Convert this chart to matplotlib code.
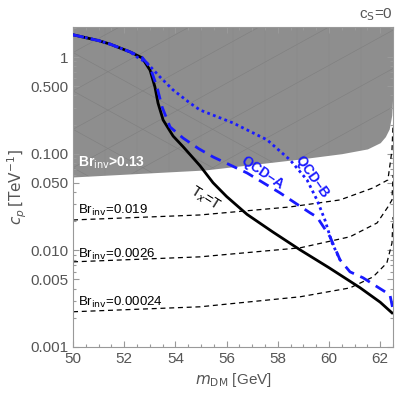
import matplotlib.pyplot as plt
import numpy as np
from matplotlib.ticker import FixedLocator, NullFormatter

plt.rcParams['font.family'] = ['Liberation Sans', 'DejaVu Sans']

# --- data ---
m_tx = [50.0, 51.0, 51.45, 52.23, 52.70, 53.01, 53.20, 53.32, 53.52, 53.91,
        54.3, 54.96, 55.47, 56.0, 56.8, 57.8, 58.87, 60.0, 61.21, 62.0, 62.46]
c_tx = [1.70, 1.48, 1.36, 1.13, 0.98, 0.73, 0.49, 0.334, 0.223, 0.152,
        0.118, 0.075, 0.050, 0.036, 0.0235, 0.0155, 0.0101, 0.0066, 0.0041,
        0.0029, 0.00225]

m_qcda = [50.0, 51.0, 51.45, 52.23, 52.70, 53.01, 53.28, 53.48, 53.79, 54.30,
          54.9, 55.47, 56.80, 58.09, 59.26, 59.53, 60.04, 60.43, 60.82, 61.33,
          61.88, 62.38, 62.5]
c_qcda = [1.70, 1.48, 1.36, 1.13, 0.99, 0.788, 0.49, 0.304, 0.189, 0.145,
          0.113, 0.0925, 0.0631, 0.0392, 0.0244, 0.0221, 0.0138, 0.00796,
          0.00598, 0.00519, 0.00419, 0.00346, 0.00242]

m_qcdb = [50.0, 51.0, 51.45, 52.23, 52.50, 52.89, 53.40, 53.91, 54.57, 54.96,
          56.25, 57.58, 58.48, 59.14, 59.53, 59.84, 60.12, 60.43]
c_qcdb = [1.70, 1.48, 1.36, 1.13, 1.0, 0.867, 0.621, 0.456, 0.334, 0.283,
          0.208, 0.139, 0.086, 0.0535, 0.0332, 0.0206, 0.0119, 0.00796]

m_gray = [50.0, 55.16, 58.87, 60.5, 61.5, 62.0, 62.2, 62.35, 62.45, 62.49, 62.5, 62.5]
c_gray = [0.0574, 0.0678, 0.088, 0.100, 0.112, 0.130, 0.150, 0.180, 0.25, 0.40,
          0.70, 2.05]

m_br1 = [50.0, 54.96, 58.48, 60.43, 61.72, 62.30, 62.46, 62.5]
c_br1 = [0.0206, 0.0232, 0.0281, 0.0332, 0.0442, 0.0535, 0.109, 0.2]
m_br2 = [50.0, 54.96, 58.87, 60.82, 61.88, 62.30, 62.46, 62.5]
c_br2 = [0.00759, 0.00855, 0.0106, 0.0138, 0.0192, 0.0281, 0.0332, 0.06]
m_br3 = [50.0, 54.96, 58.87, 60.82, 61.72, 62.26, 62.46, 62.5]
c_br3 = [0.00231, 0.0026, 0.0033, 0.00408, 0.0053, 0.0074, 0.0119, 0.0221]

br_labels = ['0.019', '0.0026', '0.00024']
br_label_y = [0.0238, 0.00835, 0.00266]

y_ticks = [1, 0.5, 0.1, 0.05, 0.01, 0.005, 0.001]
y_ticklabels = ['1', '0.500', '0.100', '0.050', '0.010', '0.005', '0.001']
x_ticks = [50, 52, 54, 56, 58, 60, 62]

ylo, yhi = 0.001, 2.05
txtc = '#555555'
blue = '#1a1aff'

fig = plt.figure(figsize=(3.99, 3.96), dpi=100)
ax = fig.add_axes([0.183, 0.124, 0.802, 0.808])

region = ax.fill_between(m_gray, c_gray, yhi, color='#8e8e8e', lw=0, zorder=1)

# faint mesh lines inside the excluded region (plot-style artefact)
clip = region.get_paths()[0]
for off in np.arange(-1.0, 1.0, 0.12):
    for sl in (0.55, -0.55):
        ln, = ax.plot([0, 1], [off, off + sl], transform=ax.transAxes,
                      color='#7e7e7e', lw=0.4, zorder=1.1)
        ln.set_clip_path(clip, ax.transData)
for gx in np.arange(0.0, 1.0, 0.1):
    ln, = ax.plot([gx, gx], [0, 1], transform=ax.transAxes,
                  color='#858585', lw=0.3, zorder=1.1)
    ln.set_clip_path(clip, ax.transData)

for mm, cc in [(m_br1, c_br1), (m_br2, c_br2), (m_br3, c_br3)]:
    ax.plot(mm, cc, color='black', lw=0.9, ls=(0, (4, 3)), zorder=2)

ax.plot(m_tx, c_tx, color='black', lw=2.0, zorder=3)
ax.plot(m_qcdb, c_qcdb, color=blue, lw=2.0, ls=(0, (1, 1.2)), zorder=4)
ax.plot(m_qcda, c_qcda, color=blue, lw=2.0, ls=(0, (4, 2.5)), zorder=5)

ax.set_yscale('log')
ax.set_xlim(50, 62.5)
ax.set_ylim(ylo, yhi)

ax.yaxis.set_major_locator(FixedLocator(y_ticks))
ax.set_yticklabels(y_ticklabels)
minors = [k * 10.0 ** e for e in range(-3, 1) for k in range(2, 10)]
minors = [v for v in minors if v not in y_ticks]
ax.yaxis.set_minor_locator(FixedLocator(minors))
ax.yaxis.set_minor_formatter(NullFormatter())
ax.set_xticks(x_ticks)
ax.set_xticks(np.arange(50, 62.6, 0.5), minor=True)

ax.tick_params(which='both', direction='in', top=True, right=True,
               color='#999999', labelcolor=txtc, labelsize=11, width=0.8)
ax.tick_params(which='major', length=4)
ax.tick_params(which='minor', length=2.2)
for s in ax.spines.values():
    s.set_color('#999999')
    s.set_linewidth(0.8)

ax.set_xlabel(r'$m_{\mathrm{DM}}$ [GeV]', color=txtc, fontsize=11, labelpad=4)
ax.set_ylabel(r'$c_p\,[\mathrm{TeV}^{-1}]$', color=txtc, fontsize=11, labelpad=1)

ax.text(50.2, 0.073, r'Br$_{\mathrm{inv}}$>0.13', color='white', fontsize=10,
        fontweight='bold', zorder=6)
for lab, yy in zip(br_labels, br_label_y):
    ax.text(50.2, yy, r'Br$_{\mathrm{inv}}$=' + lab, color='black', fontsize=9.5, zorder=6)

ax.text(55.15, 0.034, r'T$_{x}$=T', color='black', fontsize=10, rotation=-32,
        ha='center', va='center', zorder=6)
ax.text(57.4, 0.064, 'QCD–A', color=blue, fontsize=10, fontweight='bold',
        rotation=-34, ha='center', va='center', zorder=6)
ax.text(59.35, 0.057, 'QCD–B', color=blue, fontsize=10, fontweight='bold',
        rotation=-55, ha='center', va='center', zorder=6)

fig.text(0.985, 0.955, r'c$_{\mathrm{S}}$=0', color=txtc, fontsize=11, ha='right')

fig.savefig('out.png', dpi=100)
